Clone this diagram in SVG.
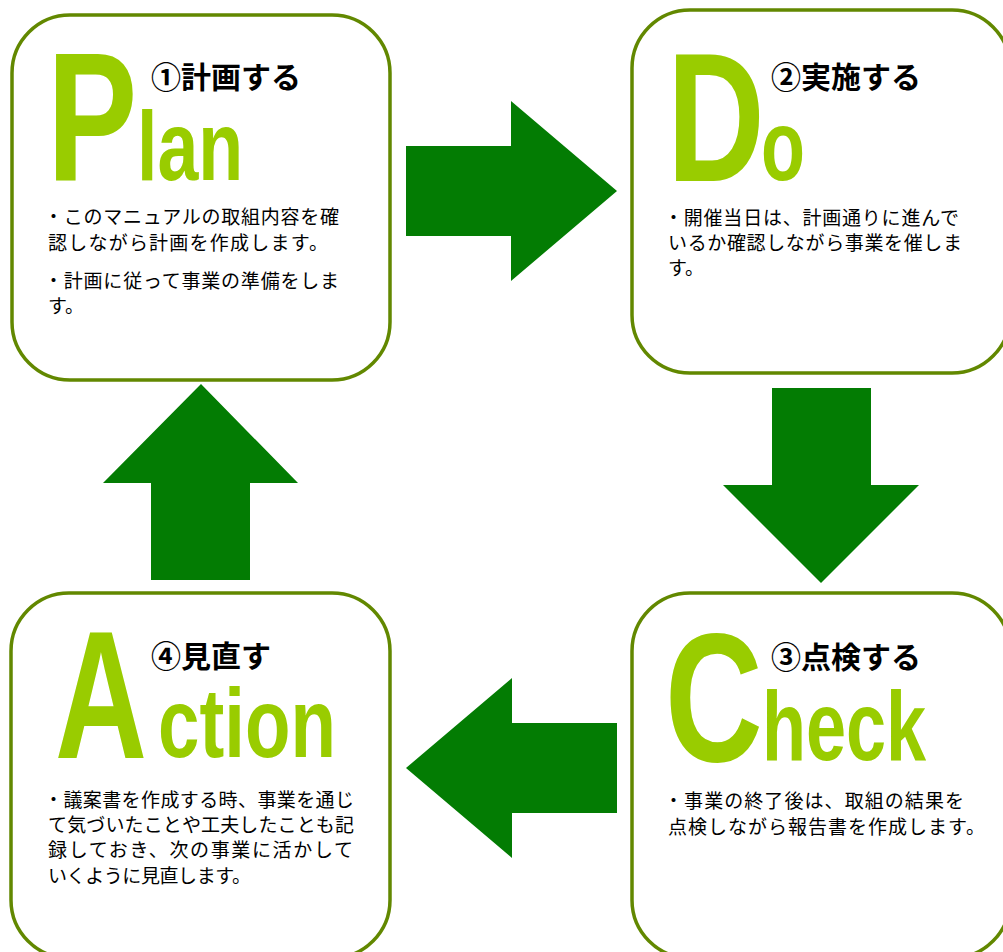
<svg xmlns="http://www.w3.org/2000/svg" width="1003" height="952" viewBox="0 0 1003 952">
<style>
.box{fill:#ffffff;stroke:#628800;stroke-width:3.5}
.big{font-family:"Liberation Sans",Arial,sans-serif;font-weight:bold;fill:#99cc00}
.head{font-family:"Noto Sans CJK JP",sans-serif;font-weight:bold;font-size:30px;fill:#000}
.body{font-family:"Noto Sans CJK JP",sans-serif;font-size:19px;fill:#000}
.arrow{fill:#037c03}
</style>
<rect width="1003" height="952" fill="#ffffff"/>
<g id="connectors">
<polygon class="arrow" points="406,146 511,146 511,101 617,191 511,281 511,236 406,236"/>
<polygon class="arrow" points="772,388 871,388 871,485 919,485 821,583 723,485 772,485"/>
<polygon class="arrow" points="617,723 512,723 512,678 406,768 512,858 512,813 617,813"/>
<polygon class="arrow" points="151,580 151,483 103,483 201,384 298,483 250,483 250,580"/>
</g>
<g id="plan">
<rect class="box" x="12" y="15" width="378" height="365" rx="58"/>
<text class="big" font-size="183" transform="translate(47,181) scale(0.74,1)">P</text>
<text class="big" font-size="98" transform="translate(137,180) scale(0.75,1)">lan</text>
<text class="head" x="151" y="88">①計画する</text>
<text class="body" x="44" y="223.5" textLength="295" lengthAdjust="spacing">・このマニュアルの取組内容を確</text>
<text class="body" x="48" y="249.5" textLength="280" lengthAdjust="spacing">認しながら計画を作成します。</text>
<text class="body" x="44" y="287.5" textLength="295" lengthAdjust="spacing">・計画に従って事業の準備をしま</text>
<text class="body" x="48" y="313">す。</text>
</g>
<g id="do">
<rect class="box" x="632" y="10" width="378" height="363" rx="58"/>
<text class="big" font-size="183" transform="translate(667,181) scale(0.74,1)">D</text>
<text class="big" font-size="100" transform="translate(761,180) scale(0.72,1)">o</text>
<text class="head" x="771" y="88">②実施する</text>
<text class="body" x="664" y="225" textLength="295" lengthAdjust="spacing">・開催当日は、計画通りに進んで</text>
<text class="body" x="668" y="250" textLength="294" lengthAdjust="spacing">いるか確認しながら事業を催しま</text>
<text class="body" x="668" y="275">す。</text>
</g>
<g id="check">
<rect class="box" x="632" y="593" width="378" height="365" rx="58"/>
<text class="big" font-size="183" transform="translate(665,761) scale(0.74,1)">C</text>
<text class="big" font-size="98" transform="translate(762,760) scale(0.735,1)">heck</text>
<text class="head" x="771" y="668">③点検する</text>
<text class="body" x="664" y="808" textLength="300" lengthAdjust="spacing">・事業の終了後は、取組の結果を</text>
<text class="body" x="668" y="834" textLength="317" lengthAdjust="spacing">点検しながら報告書を作成します。</text>
</g>
<g id="action">
<rect class="box" x="11" y="593" width="379" height="365" rx="58"/>
<text class="big" font-size="182" transform="translate(55,758) scale(0.70,1)">A</text>
<text class="big" font-size="98" transform="translate(158,757) scale(0.76,1)">ction</text>
<text class="head" x="151" y="667">④見直す</text>
<text class="body" x="44" y="807" textLength="310" lengthAdjust="spacing">・議案書を作成する時、事業を通じ</text>
<text class="body" x="48" y="832" textLength="306" lengthAdjust="spacing">て気づいたことや工夫したことも記</text>
<text class="body" x="48" y="857" textLength="305" lengthAdjust="spacing">録しておき、次の事業に活かして</text>
<text class="body" x="48" y="883" textLength="203" lengthAdjust="spacing">いくように見直します。</text>
</g>
</svg>
